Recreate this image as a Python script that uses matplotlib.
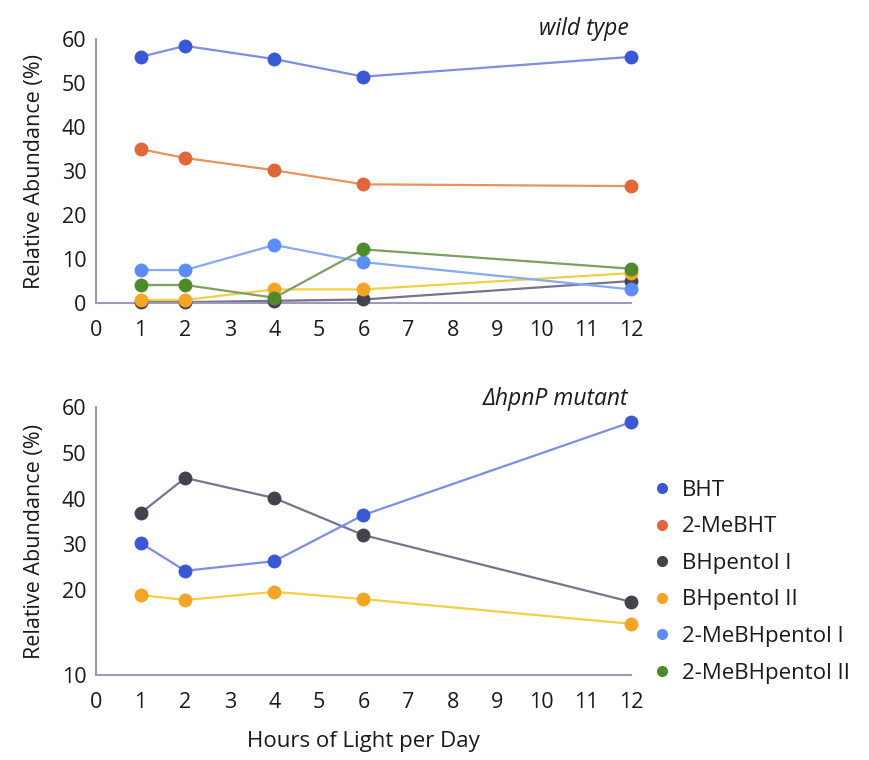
import matplotlib
matplotlib.use("Agg")
from matplotlib import pyplot as plt
from matplotlib.lines import Line2D

# Data
hours = [1, 2, 4, 6, 12]
names = ["BHT", "2-MeBHT", "BHpentol I", "BHpentol II", "2-MeBHpentol I", "2-MeBHpentol II"]

# wild type
wt_bht = [56, 58.5, 55.5, 51.5, 56]
wt_mebht = [35, 33, 30.2, 27, 26.6]
wt_bhpentol1 = [0.2, 0.2, 0.5, 0.8, 5]
wt_bhpentol2 = [0.7, 0.7, 3.1, 3.1, 6.8]
wt_mebhpentol1 = [7.5, 7.5, 13.2, 9.3, 3.1]
wt_mebhpentol2 = [4.1, 4.1, 1.2, 12.2, 7.8]

# hpnP mutant
mut_bht = [30.3, 24.2, 26.3, 36.4, 56.7]
mut_bhpentol1 = [36.8, 44.5, 40.1, 32.0, 17.4]
mut_bhpentol2 = [18.9, 17.8, 19.6, 18.0, 12.6]

x_ticks = list(range(0, 13))
top_yticks = [0, 10, 20, 30, 40, 50, 60]
bot_yticks = [1.4, 20, 30, 40, 50, 60]
bot_ylabels = ["10", "20", "30", "40", "50", "60"]

# Styles
marker_colors = {
    "BHT": "#3a57d6",
    "2-MeBHT": "#e0673a",
    "BHpentol I": "#45424e",
    "BHpentol II": "#f5a526",
    "2-MeBHpentol I": "#5b8cf7",
    "2-MeBHpentol II": "#4e8a2c",
}
line_colors = {
    "BHT": "#7f8ce6",
    "2-MeBHT": "#e8935a",
    "BHpentol I": "#77738a",
    "BHpentol II": "#f2cf45",
    "2-MeBHpentol I": "#86a8f5",
    "2-MeBHpentol II": "#7f9e62",
}
spine_color = "#9c9ab8"
text_color = "#1a1a1a"

plt.rcParams["font.family"] = ["Open Sans", "DejaVu Sans"]

fig = plt.figure(figsize=(8.7, 7.6), dpi=100)
ax1 = fig.add_axes([0.1103, 0.6013, 0.615, 0.347])
ax2 = fig.add_axes([0.1103, 0.1118, 0.615, 0.3526])


def draw(ax, name, values):
    ax.plot(hours, values, color=line_colors[name], lw=1.6, zorder=2, clip_on=False)
    ax.plot(hours, values, "o", color=marker_colors[name], ms=10, mec="none",
            zorder=3, clip_on=False)


# Top panel
draw(ax1, "BHpentol I", wt_bhpentol1)
draw(ax1, "2-MeBHT", wt_mebht)
draw(ax1, "BHpentol II", wt_bhpentol2)
draw(ax1, "2-MeBHpentol I", wt_mebhpentol1)
draw(ax1, "2-MeBHpentol II", wt_mebhpentol2)
draw(ax1, "BHT", wt_bht)
ax1.set_ylim(0, 60)
ax1.set_yticks(top_yticks)

# Bottom panel
draw(ax2, "BHpentol II", mut_bhpentol2)
draw(ax2, "BHpentol I", mut_bhpentol1)
draw(ax2, "BHT", mut_bht)
ax2.set_ylim(1.4, 60)
ax2.set_yticks(bot_yticks)
ax2.set_yticklabels(bot_ylabels)

for ax in (ax1, ax2):
    ax.set_xlim(0, 12)
    ax.set_xticks(x_ticks)
    for s in ("top", "right"):
        ax.spines[s].set_visible(False)
    for s in ("left", "bottom"):
        ax.spines[s].set_color(spine_color)
        ax.spines[s].set_linewidth(1.5)
    ax.tick_params(axis="both", length=0, labelsize=15.5, colors=text_color)
    ax.tick_params(axis="x", pad=12)
    ax.tick_params(axis="y", pad=7)
    ax.set_ylabel("Relative Abundance (%)", fontsize=15.5, color=text_color, labelpad=12)

ax1.text(0.995, 1.04, "wild type", transform=ax1.transAxes, ha="right", va="center",
         fontsize=16.5, style="italic", color=text_color)
ax2.text(0.995, 1.03, "\u0394hpnP mutant", transform=ax2.transAxes, ha="right",
         va="center", fontsize=16.5, style="italic", color=text_color)
ax2.set_xlabel("Hours of Light per Day", fontsize=16, color=text_color, labelpad=13)

# Legend
handles = [Line2D([], [], ls="none", marker="o", ms=8, mec="none",
                  color=marker_colors[n]) for n in names]
fig.legend(handles, names, loc="upper left", bbox_to_anchor=(0.725, 0.395),
           frameon=False, fontsize=16, handletextpad=0.4, labelspacing=0.7,
           handlelength=1.0, labelcolor=text_color)

fig.savefig("out.png", dpi=100)
